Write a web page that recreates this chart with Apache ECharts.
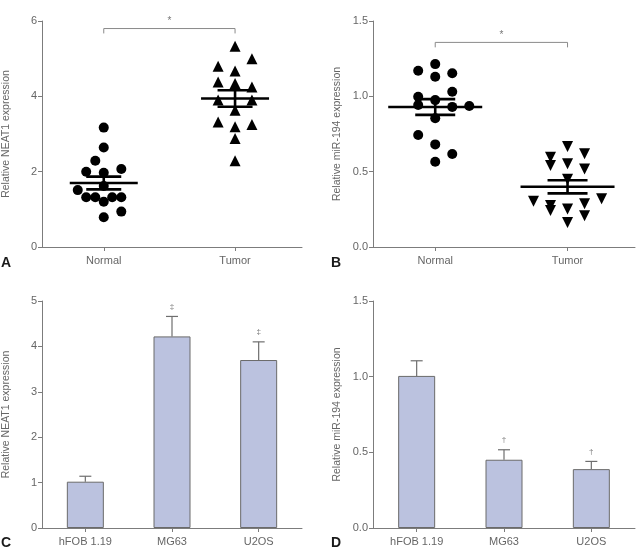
<!DOCTYPE html>
<html>
<head>
<meta charset="utf-8">
<script src="https://cdn.jsdelivr.net/npm/echarts@6/dist/echarts.min.js"></script>
<style>
  html, body { margin: 0; padding: 0; background: #fff; }
  #chart { width: 639px; height: 547px; }
</style>
</head>
<body>
<div id="chart"></div>
<script>
// ---- data ----
var groupNames = ['Normal', 'Tumor'];
var groupX = [0.95, 2.97];

// A: NEAT1 in tissues (x offset = jitter around the group, y = value)
var neatNormalOffset = [0, 0, -0.13, -0.27, 0, 0.27, 0, -0.4, -0.27, -0.13, 0, 0.13, 0.27, 0.27, 0];
var neatNormal = [3.17, 2.64, 2.29, 2.0, 1.97, 2.07, 1.62, 1.51, 1.32, 1.32, 1.2, 1.32, 1.32, 0.94, 0.79];
var neatTumorOffset = [0, 0.26, -0.26, 0, -0.26, 0, 0.26, -0.26, 0.26, 0, -0.26, 0, 0.26, 0, 0];
var neatTumor = [5.33, 5.0, 4.8, 4.67, 4.38, 4.34, 4.25, 3.9, 3.9, 3.63, 3.32, 3.19, 3.25, 2.88, 2.29];

// B: miR-194 in tissues
var mirNormalOffset = [-0.26, 0, 0, 0.26, 0.26, -0.26, 0, -0.26, 0.26, 0.52, 0, -0.26, 0, 0.26, 0];
var mirNormal = [1.17, 1.214, 1.13, 1.153, 1.03, 0.997, 0.975, 0.942, 0.93, 0.936, 0.854, 0.743, 0.681, 0.617, 0.566];
var mirTumorOffset = [0, -0.26, 0.26, -0.26, 0, 0.26, 0, -0.52, -0.26, -0.26, 0, 0.26, 0.26, 0, 0.52];
var mirTumor = [0.667, 0.596, 0.619, 0.541, 0.552, 0.517, 0.45, 0.303, 0.276, 0.243, 0.252, 0.287, 0.208, 0.163, 0.32];

// significance brackets [top, foot]
var neatBracket = [5.8, 5.67];
var mirBracket = [1.358, 1.325];

// C, D: cell lines
var cellLines = ['hFOB 1.19', 'MG63', 'U2OS'];
var neatBar = [1.02, 4.22, 3.7];
var neatErr = [0.12, 0.44, 0.4];
var neatMarks = ['', '\u2021', '\u2021'];
var mirBar = [1.005, 0.451, 0.389];
var mirErr = [0.1, 0.066, 0.051];
var mirMarks = ['', '\u2020', '\u2020'];

// ---- helpers ----
var FONT = "'Liberation Sans', Arial, sans-serif";
var AXIS_COLOR = '#7c7c7c';
var TEXT_COLOR = '#666';

function points(offsets, values, g) {
  return values.map(function (v, i) { return [groupX[g] + offsets[i], v]; });
}

function meanSem(values) {
  var n = values.length;
  var m = values.reduce(function (a, b) { return a + b; }, 0) / n;
  var ss = values.reduce(function (a, b) { return a + (b - m) * (b - m); }, 0);
  return [m, Math.sqrt(ss / (n - 1)) / Math.sqrt(n)];
}

function meanSemData(lists) {
  return lists.map(function (vals, g) {
    var ms = meanSem(vals);
    return [groupX[g], ms[0], ms[1]];
  });
}

function meanSemRender(halfMean, halfSem) {
  return function (params, api) {
    var x = api.value(0), m = api.value(1), s = api.value(2);
    var c = api.coord([x, m]);
    var hi = api.coord([x, m + s]);
    var lo = api.coord([x, m - s]);
    var st = { stroke: '#000', lineWidth: 2.6 };
    return {
      type: 'group',
      children: [
        { type: 'line', shape: { x1: c[0] - halfMean, y1: c[1], x2: c[0] + halfMean, y2: c[1] }, style: st },
        { type: 'line', shape: { x1: c[0] - halfSem, y1: hi[1], x2: c[0] + halfSem, y2: hi[1] }, style: st },
        { type: 'line', shape: { x1: c[0] - halfSem, y1: lo[1], x2: c[0] + halfSem, y2: lo[1] }, style: st },
        { type: 'line', shape: { x1: c[0], y1: hi[1], x2: c[0], y2: lo[1] }, style: st }
      ]
    };
  };
}

function bracketRender(params, api) {
  var a = api.coord([api.value(0), api.value(2)]);
  var b = api.coord([api.value(1), api.value(2)]);
  var foot = api.coord([api.value(0), api.value(3)]);
  return {
    type: 'group',
    children: [
      { type: 'polyline', shape: { points: [[a[0], foot[1]], a, b, [b[0], foot[1]]] },
        style: { stroke: '#8a8a8a', lineWidth: 1, fill: null } },
      { type: 'text', x: (a[0] + b[0]) / 2, y: a[1] - 7,
        style: { text: '*', fill: '#777', font: '10px ' + FONT, align: 'center', verticalAlign: 'middle' } }
    ]
  };
}

function errRender(marks) {
  return function (params, api) {
    var i = api.value(0);
    var base = api.coord([i, api.value(1)]);
    var top = api.coord([i, api.value(2)]);
    var st = { stroke: '#6e6e6e', lineWidth: 1.2 };
    return {
      type: 'group',
      children: [
        { type: 'line', shape: { x1: base[0], y1: base[1], x2: top[0], y2: top[1] }, style: st },
        { type: 'line', shape: { x1: top[0] - 6, y1: top[1], x2: top[0] + 6, y2: top[1] }, style: st },
        { type: 'text', x: top[0], y: top[1] - 10,
          style: { text: marks[params.dataIndex], fill: '#777', font: '8px ' + FONT, align: 'center', verticalAlign: 'middle' } }
      ]
    };
  };
}

function valueY(grid, max, interval, name, digits) {
  return {
    type: 'value', gridIndex: grid, min: 0, max: max, interval: interval,
    name: name, nameLocation: 'middle', nameGap: 30, nameRotate: 90,
    nameTextStyle: { fontFamily: FONT, fontSize: 10.5, color: TEXT_COLOR },
    splitLine: { show: false },
    axisLine: { show: true, lineStyle: { color: AXIS_COLOR, width: 1 } },
    axisTick: { show: true, length: 4, lineStyle: { color: AXIS_COLOR } },
    axisLabel: {
      fontFamily: FONT, fontSize: 11, color: TEXT_COLOR, margin: 5,
      formatter: function (v) { return v.toFixed(digits); }
    }
  };
}

function groupAxis(grid) {
  return {
    type: 'value', gridIndex: grid, min: 0, max: 4,
    splitLine: { show: false },
    axisLine: { show: true, onZero: false, lineStyle: { color: AXIS_COLOR, width: 1 } },
    axisTick: { show: true, length: 4, customValues: groupX, lineStyle: { color: AXIS_COLOR } },
    axisLabel: {
      customValues: groupX, fontFamily: FONT, fontSize: 11, color: TEXT_COLOR, margin: 8,
      formatter: function (v) {
        var k = groupX.findIndex(function (g) { return Math.abs(g - v) < 1e-6; });
        return k < 0 ? '' : groupNames[k];
      }
    }
  };
}

function cellAxis(grid) {
  return {
    type: 'category', gridIndex: grid, data: cellLines,
    axisLine: { show: true, lineStyle: { color: AXIS_COLOR, width: 1 } },
    axisTick: { show: true, length: 4, alignWithLabel: true, lineStyle: { color: AXIS_COLOR } },
    axisLabel: { fontFamily: FONT, fontSize: 11, color: TEXT_COLOR, margin: 8 }
  };
}

function letter(t, x, y) {
  return { type: 'text', left: x, top: y,
    style: { text: t, fill: '#1a1a1a', font: 'bold 14px "Liberation Sans", Arial, sans-serif' } };
}

var chart = echarts.init(document.getElementById('chart'), null, { renderer: 'canvas' });

var dotStyle = { color: '#000', opacity: 1 };

var option = {
  backgroundColor: '#fff',
  animation: false,
  grid: [
    { left: 40, top: 21, width: 262, height: 226 },
    { left: 373, top: 21, width: 262, height: 226 },
    { left: 41, top: 301, width: 261, height: 227 },
    { left: 373, top: 301, width: 262, height: 227 }
  ],
  xAxis: [groupAxis(0), groupAxis(1), cellAxis(2), cellAxis(3)],
  yAxis: [
    valueY(0, 6, 2, 'Relative NEAT1 expression', 0),
    valueY(1, 1.5, 0.5, 'Relative miR-194 expression', 1),
    valueY(2, 5, 1, 'Relative NEAT1 expression', 0),
    valueY(3, 1.5, 0.5, 'Relative miR-194 expression', 1)
  ],
  graphic: [letter('A', 1, 256), letter('B', 331, 256), letter('C', 1, 536), letter('D', 331, 536)],
  series: [
    // A
    { type: 'scatter', xAxisIndex: 0, yAxisIndex: 0, symbol: 'circle', symbolSize: 10,
      itemStyle: dotStyle, data: points(neatNormalOffset, neatNormal, 0) },
    { type: 'scatter', xAxisIndex: 0, yAxisIndex: 0, symbol: 'triangle', symbolSize: 11,
      itemStyle: dotStyle, data: points(neatTumorOffset, neatTumor, 1) },
    { type: 'custom', xAxisIndex: 0, yAxisIndex: 0, renderItem: meanSemRender(34, 17.5),
      data: meanSemData([neatNormal, neatTumor]), z: 5 },
    { type: 'custom', xAxisIndex: 0, yAxisIndex: 0, renderItem: bracketRender,
      data: [[groupX[0], groupX[1], neatBracket[0], neatBracket[1]]] },
    // B
    { type: 'scatter', xAxisIndex: 1, yAxisIndex: 1, symbol: 'circle', symbolSize: 10,
      itemStyle: dotStyle, data: points(mirNormalOffset, mirNormal, 0) },
    { type: 'scatter', xAxisIndex: 1, yAxisIndex: 1, symbol: 'triangle', symbolRotate: 180, symbolSize: 11,
      itemStyle: dotStyle, data: points(mirTumorOffset, mirTumor, 1) },
    { type: 'custom', xAxisIndex: 1, yAxisIndex: 1, renderItem: meanSemRender(47, 20),
      data: meanSemData([mirNormal, mirTumor]), z: 5 },
    { type: 'custom', xAxisIndex: 1, yAxisIndex: 1, renderItem: bracketRender,
      data: [[groupX[0], groupX[1], mirBracket[0], mirBracket[1]]] },
    // C
    { type: 'bar', xAxisIndex: 2, yAxisIndex: 2, barWidth: 37, data: neatBar,
      itemStyle: { color: '#bbc2df', borderColor: '#6a6a6a', borderWidth: 1 } },
    { type: 'custom', xAxisIndex: 2, yAxisIndex: 2, renderItem: errRender(neatMarks), z: 1,
      data: neatBar.map(function (v, i) { return [i, v, v + neatErr[i]]; }) },
    // D
    { type: 'bar', xAxisIndex: 3, yAxisIndex: 3, barWidth: 37, data: mirBar,
      itemStyle: { color: '#bbc2df', borderColor: '#6a6a6a', borderWidth: 1 } },
    { type: 'custom', xAxisIndex: 3, yAxisIndex: 3, renderItem: errRender(mirMarks), z: 1,
      data: mirBar.map(function (v, i) { return [i, v, v + mirErr[i]]; }) }
  ]
};

chart.setOption(option);
</script>
</body>
</html>
